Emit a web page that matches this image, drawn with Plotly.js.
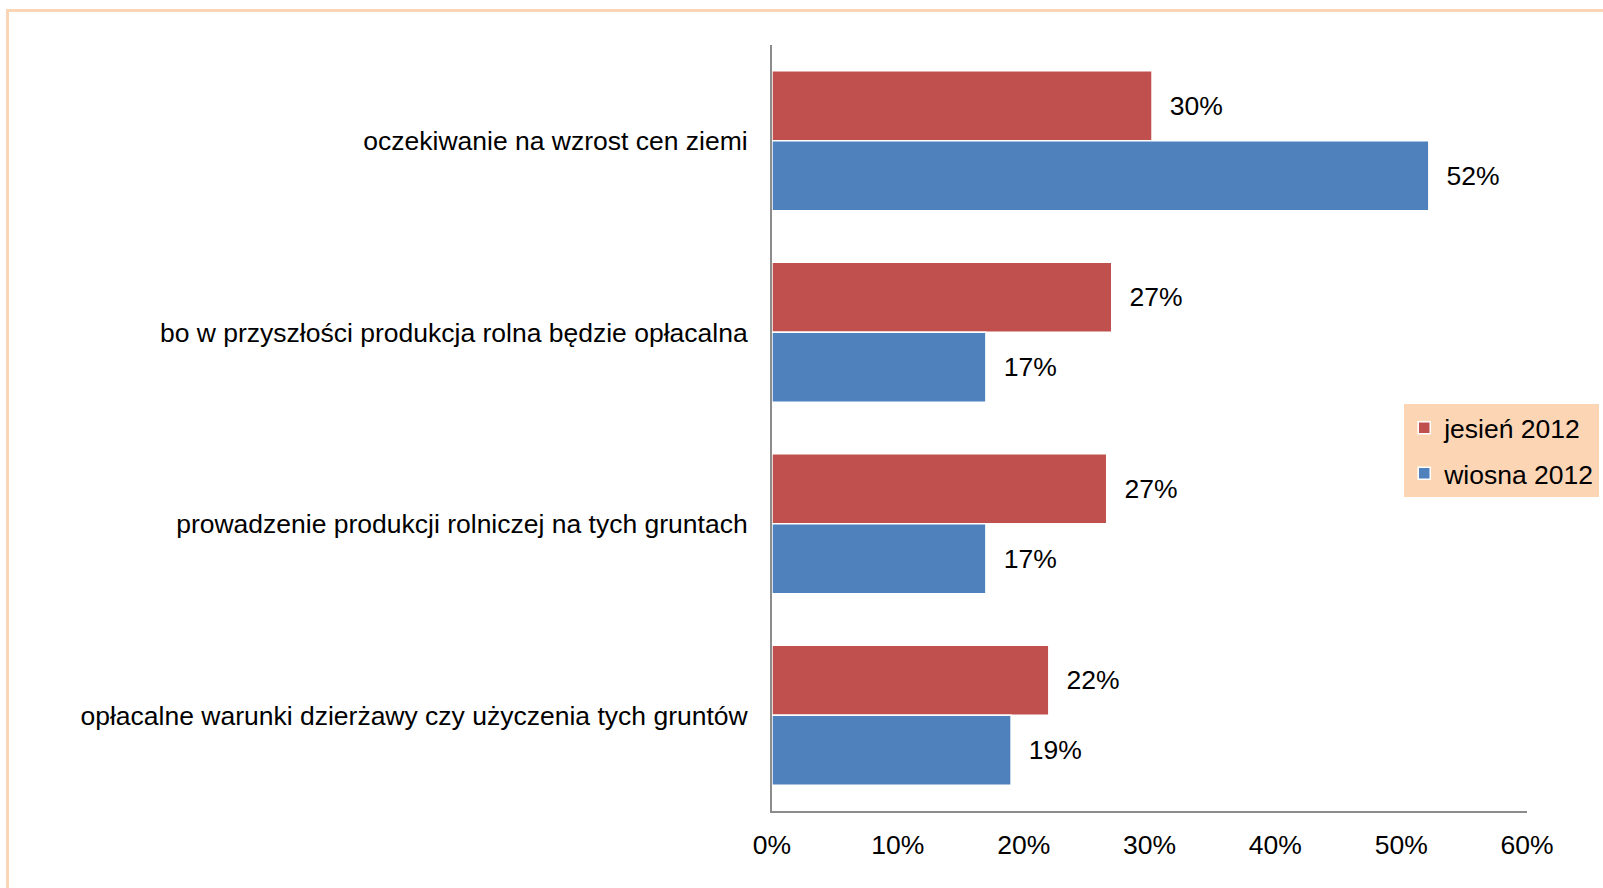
<!DOCTYPE html>
<html>
<head>
<meta charset="utf-8">
<script src="https://cdn.plot.ly/plotly-3.0.1.min.js"></script>
<style>
  html, body { margin: 0; padding: 0; background: #ffffff; }
  #frame { position: absolute; left: 6px; top: 9px; width: 1700px; height: 1000px;
           border-left: 3px solid #FBD6B6; border-top: 3px solid #FBD6B6; }
  #chart { position: absolute; left: 0; top: 0; width: 1603px; height: 888px; }
</style>
</head>
<body>
<div id="frame"></div>
<div id="chart"></div>
<script>
const categories = [
  "oczekiwanie na wzrost cen ziemi",
  "bo w przyszłości produkcja rolna będzie opłacalna",
  "prowadzenie produkcji rolniczej na tych gruntach",
  "opłacalne warunki dzierżawy czy użyczenia tych gruntów"
];
const seriesNames = ["jesień 2012", "wiosna 2012"];
const autumn2012 = [30.2, 27, 26.6, 22];
const spring2012 = [52.2, 17, 17, 19];
const xTickVals = [0, 10, 20, 30, 40, 50, 60];
const xTickText = ["0%", "10%", "20%", "30%", "40%", "50%", "60%"];

const FONT = "'Liberation Sans', Arial, sans-serif";
const pad = "\u00a0\u00a0";

function barTrace(name, values, color, group) {
  return {
    type: "bar",
    orientation: "h",
    name: name,
    legendgroup: group,
    y: categories,
    x: values,
    text: values.map(v => pad + Math.round(v) + "%"),
    textposition: "outside",
    cliponaxis: false,
    textfont: { family: FONT, size: 26.5, color: "#000000" },
    marker: { color: color, line: { color: "#ffffff", width: 1.5 } },
    hoverinfo: "skip"
  };
}

const data = [
  barTrace(seriesNames[0], autumn2012, "#C0504D", "a"),
  barTrace(seriesNames[1], spring2012, "#4F81BD", "b")
];

const layout = {
  width: 1603,
  height: 888,
  margin: { l: 772, r: 76, t: 45, b: 77, pad: 0, autoexpand: false },
  paper_bgcolor: "rgba(0,0,0,0)",
  plot_bgcolor: "rgba(0,0,0,0)",
  barmode: "group",
  bargap: 0.27,
  bargroupgap: 0,
  font: { family: FONT, size: 26.5, color: "#000000" },
  xaxis: {
    range: [0, 60],
    tickvals: xTickVals,
    ticktext: xTickText,
    showgrid: false,
    zeroline: false,
    showline: true,
    linecolor: "#8C8C8C",
    linewidth: 2,
    ticks: "",
    ticklabelstandoff: 9,
    tickfont: { family: FONT, size: 26.5, color: "#000000" }
  },
  yaxis: {
    autorange: "reversed",
    showgrid: false,
    zeroline: false,
    showline: true,
    linecolor: "#8C8C8C",
    linewidth: 2,
    ticks: "",
    ticklabelstandoff: 17,
    tickfont: { family: FONT, size: 26.5, color: "#000000" }
  },
  showlegend: true,
  legend: {
    xref: "container",
    yref: "container",
    x: 0.876,
    xanchor: "left",
    y: 0.545,
    yanchor: "top",
    bgcolor: "#FCD5B5",
    borderwidth: 0,
    traceorder: "grouped",
    tracegroupgap: 8,
    itemwidth: 30,
    font: { family: FONT, size: 26.5, color: "#000000" }
  }
};

Plotly.newPlot("chart", data, layout, { displayModeBar: false, staticPlot: true });
</script>
</body>
</html>
